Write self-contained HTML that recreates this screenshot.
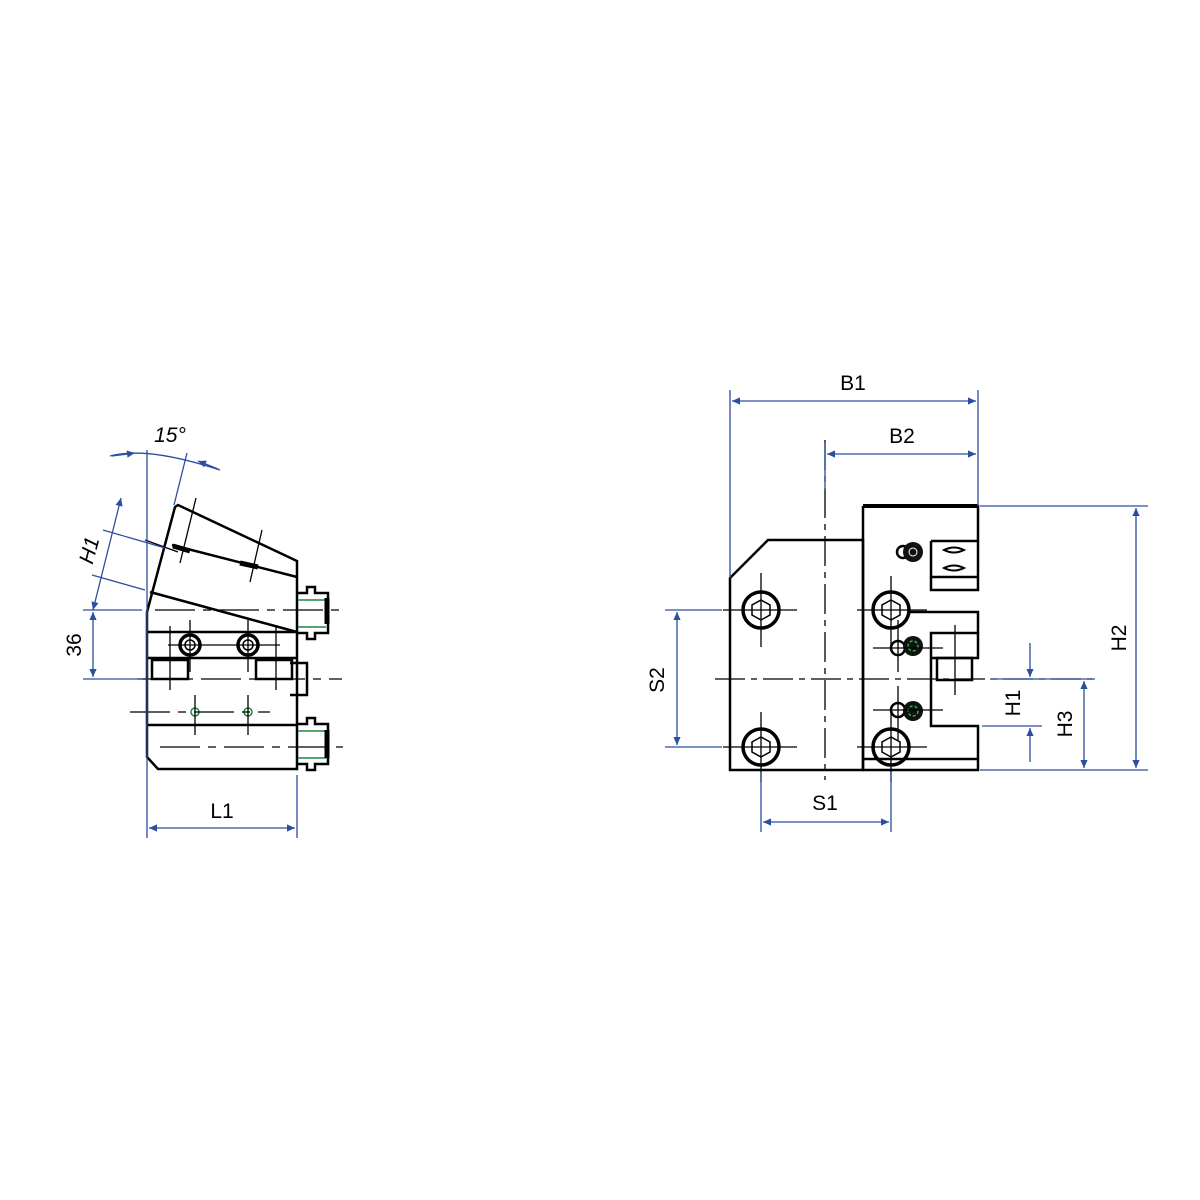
<!DOCTYPE html>
<html><head><meta charset="utf-8"><style>body{margin:0;background:#fff}svg{display:block}</style></head><body>
<svg width="1200" height="1200" viewBox="0 0 1200 1200" xmlns="http://www.w3.org/2000/svg" font-family="Liberation Sans, sans-serif">
<defs>
<marker id="a" viewBox="0 0 10 10" refX="10" refY="5" markerWidth="18" markerHeight="8" markerUnits="userSpaceOnUse" orient="auto-start-reverse"><path d="M0,0.5 L10,5 L0,9.5 z" fill="#2a4fa0"/></marker>
</defs>
<rect width="1200" height="1200" fill="#fff"/>
<!-- LEFT VIEW -->
<g stroke="#000" stroke-width="2.5" fill="none">
<path d="M175,507 L178,505 L297,561 L297,769 L158,769 L147,757 L147,612 Z"/>
<path d="M172,545 L297,577"/>
<path d="M150,592 L297,632"/>
<path d="M147,632 H297 M147,658 H297 M147,725 H297"/>
<path d="M152,660 h36 v19 h-36z M256,660 h36 v19 h-36z"/>
<path d="M290,663 h17 v32 h-17"/>
<path d="M297,593 h10 v-6 h8 v6 h13 v40 h-13 v6 h-8 v-6 h-10"/>
<path d="M297,724 h10 v-6 h8 v6 h13 v40 h-13 v6 h-8 v-6 h-10"/>
<circle cx="190" cy="645" r="10" stroke-width="3.5"/><circle cx="190" cy="645" r="5" stroke-width="1.5"/>
<circle cx="248" cy="645" r="10" stroke-width="3.5"/><circle cx="248" cy="645" r="5" stroke-width="1.5"/>
</g>
<g stroke="#1a8a3a" stroke-width="1.5" fill="none">
<circle cx="195" cy="712" r="4"/><circle cx="248" cy="712" r="4"/>
<path d="M298,600 h28 M298,627 h28 M298,731 h28 M298,758 h28"/>
</g>
<g stroke="#000" stroke-width="5"><path d="M173,546 L190,551 M240,563 L258,567 M327,598 v26 M327,730 v28"/></g>
<g stroke="#000" stroke-width="1.3" fill="none">
<path d="M155,610 H343" stroke-dasharray="40,8,8,8"/>
<path d="M137,679 H342" stroke-dasharray="40,8,8,8"/>
<path d="M130,712 H270" stroke-dasharray="40,8,8,8"/>
<path d="M160,747 H343" stroke-dasharray="40,8,8,8"/>
<path d="M190,620 V672 M248,620 V672 M195,695 V735 M248,695 V735 M170,626 V690 M276,626 V690 M168,645 H280"/>
<path d="M196,498 L180,563 M262,530 L250,582 M145,540 L178,552"/>
</g>
<!-- left dims -->
<g stroke="#2a4fa0" stroke-width="1.3" fill="none">
<path d="M147,450 V838 M297,775 V838 M83,610 H142 M83,679 H142 M103,530 L165,548 M92,575 L145,590 M187,453 L174,505"/>
<path d="M93,612 V677" marker-start="url(#a)" marker-end="url(#a)"/>
<path d="M149,828 H295" marker-start="url(#a)" marker-end="url(#a)"/>
<path d="M121,498 L93,610" marker-start="url(#a)" marker-end="url(#a)"/>
<path d="M110,456 Q147,446 220,470"/>
<path d="M135,453 L112,456" marker-start="url(#a)"/>
<path d="M198,461 L218,469" marker-start="url(#a)"/>
</g>
<g fill="#000" font-size="21">
<text x="222" y="818" text-anchor="middle">L1</text>
<text x="170" y="442" text-anchor="middle" font-style="italic">15°</text>
<text transform="translate(81,645) rotate(-90)" text-anchor="middle">36</text>
<text transform="translate(96,552) rotate(-75)" text-anchor="middle" font-style="italic">H1</text>
</g>
<!-- RIGHT VIEW -->
<g stroke="#000" stroke-width="2.5" fill="none">
<path d="M730,578 L768,540 H863 V770 H730 Z"/>
<path d="M863,506 H978 V590 H931 V577"/>
<path d="M863,506 H978" stroke-width="4"/>
<path d="M863,506 V770 H978 V726 H931 V633 H978 V658 H931"/>
<path d="M910,612 H978 V633"/>
<path d="M931,541 H978 M931,541 V577 H978"/>
<path d="M863,759 H978"/>
<path d="M937,658 h35 v22 h-35z"/>
<circle cx="761" cy="610" r="18" stroke-width="3.5"/><circle cx="891" cy="610" r="18" stroke-width="3.5"/>
<circle cx="761" cy="747" r="18" stroke-width="3.5"/><circle cx="891" cy="747" r="18" stroke-width="3.5"/>
<path d="M761,600 l9,5 v10 l-9,5 l-9,-5 v-10z M891,600 l9,5 v10 l-9,5 l-9,-5 v-10z M761,737 l9,5 v10 l-9,5 l-9,-5 v-10z M891,737 l9,5 v10 l-9,5 l-9,-5 v-10z" stroke-width="1.5"/>
<circle cx="898" cy="648" r="7"/><circle cx="898" cy="710" r="7"/>
<circle cx="903" cy="552" r="6"/>
<path d="M944,550 q10,-5 20,0 q-10,5 -20,0z M944,568 q10,-5 20,0 q-10,5 -20,0z" stroke-width="2"/>
</g>
<g fill="#111"><circle cx="913" cy="646" r="10"/><circle cx="913" cy="711" r="10"/><circle cx="913" cy="552" r="10"/></g>
<g fill="none" stroke="#2bb04a" stroke-width="1.5" stroke-dasharray="3,2"><circle cx="913" cy="646" r="5"/><circle cx="913" cy="711" r="5"/></g>
<circle cx="913" cy="552" r="4" fill="none" stroke="#fff" stroke-width="1"/>
<g stroke="#000" stroke-width="1.3" fill="none">
<path d="M825,440 V780" stroke-dasharray="30,6,6,6"/>
<path d="M715,679 H1095" stroke-dasharray="30,6,6,6"/>
<path d="M723,610 H797 M761,573 V647 M723,747 H797 M761,712 V782 M857,610 H927 M891,576 V645 M857,747 H927 M891,712 V782 M873,648 H943 M898,620 V672 M873,710 H943 M898,686 V740 M955,625 V695"/>
</g>
<!-- right dims -->
<g stroke="#2a4fa0" stroke-width="1.3" fill="none">
<path d="M730,390 V578 M978,390 V506 M825,443 V490 M980,506 H1148 M980,770 H1148 M990,679 H1095 M982,726 H1042 M665,610 H722 M665,747 H722 M761,772 V832 M891,772 V832"/>
<path d="M732,401 H976" marker-start="url(#a)" marker-end="url(#a)"/>
<path d="M827,454 H976" marker-start="url(#a)" marker-end="url(#a)"/>
<path d="M1136,508 V768" marker-start="url(#a)" marker-end="url(#a)"/>
<path d="M1084,681 V768" marker-start="url(#a)" marker-end="url(#a)"/>
<path d="M677,612 V745" marker-start="url(#a)" marker-end="url(#a)"/>
<path d="M763,822 H889" marker-start="url(#a)" marker-end="url(#a)"/>
<path d="M1030,643 V677" marker-end="url(#a)"/>
<path d="M1030,762 V728" marker-end="url(#a)"/>
</g>
<g fill="#000" font-size="21">
<text x="853" y="390" text-anchor="middle">B1</text>
<text x="902" y="443" text-anchor="middle">B2</text>
<text x="825" y="810" text-anchor="middle">S1</text>
<text transform="translate(664,680) rotate(-90)" text-anchor="middle">S2</text>
<text transform="translate(1126,638) rotate(-90)" text-anchor="middle">H2</text>
<text transform="translate(1072,724) rotate(-90)" text-anchor="middle">H3</text>
<text transform="translate(1020,703) rotate(-90)" text-anchor="middle">H1</text>
</g>
</svg>
</body></html>
